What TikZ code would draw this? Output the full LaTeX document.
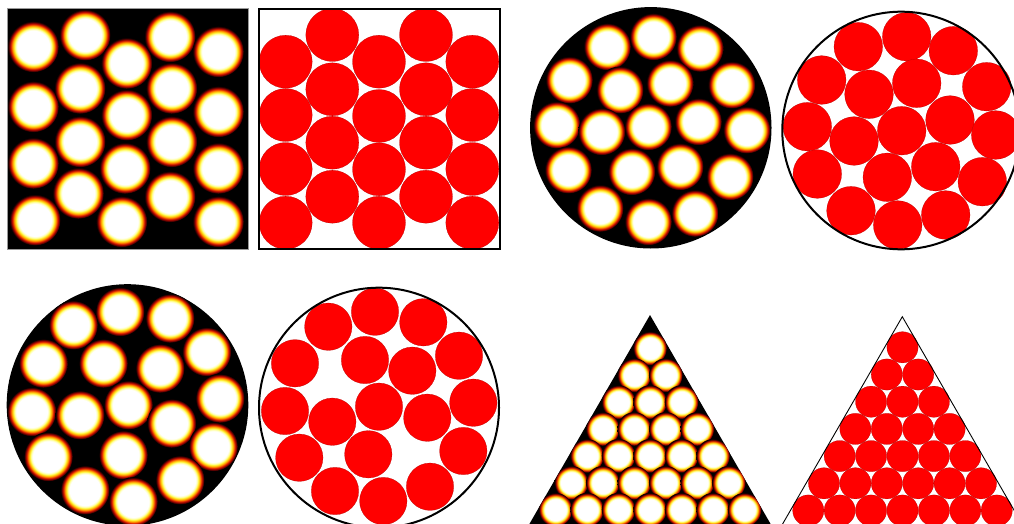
\documentclass[tikz,border=0pt]{standalone}
\usetikzlibrary{calc}
\definecolor{hotP}{HTML}{FFFFA0}
\definecolor{hotY}{HTML}{FFEE20}
\definecolor{hotO}{HTML}{FF8C00}
\definecolor{hotR}{HTML}{D81000}
\definecolor{hotD}{HTML}{5A0000}
\definecolor{ballred}{HTML}{FF0000}
\pgfdeclareradialshading{hotspot}{\pgfpoint{0bp}{0bp}}{%
  color(0bp)=(white); color(16bp)=(white); color(17.6bp)=(hotP);
  color(19bp)=(hotY); color(20.6bp)=(hotO); color(22.2bp)=(hotR);
  color(23.8bp)=(hotD); color(25bp)=(black); color(50bp)=(black)}
\tikzset{
  hot/.style={shading=hotspot},
  ball/.style={fill=ballred, draw=ballred!70!black, line width=0.2pt},
  rim/.style={draw=black, line width=2pt},
}

\begin{document}
\begin{tikzpicture}[x=1pt, y=-1pt, every node/.style={inner sep=0pt}]

\useasboundingbox (0,0) rectangle (1014,524);
\clip (0,0) rectangle (1014,524);

% top left: density field in the square
\fill[black] (7,8) rectangle (248,249);
\begin{scope}
  \clip (7,8) rectangle (248,249);
  \foreach \x/\y in {33.3/46.7, 33.3/106.7, 33.3/163.3, 35/220,
                     85/35, 80/88.3, 80/141.7, 78.3/193.3,
                     126.7/63.3, 126.7/115, 125/168.3, 121.7/221.7,
                     170/36.7, 171.7/88.3, 171.7/141.7, 170/196.7,
                     218.3/51.7, 218.3/111.7, 218.3/168.3, 218.3/221.7}
    \shade[hot] (\x,\y) circle (25.5pt);
\end{scope}
\draw[black!40, line width=0.5pt] (7,8) rectangle (248,249);

% top left: packed discs in the square
\foreach \x/\y in {285.7/61.7, 285.7/115, 285.7/169, 285.7/222.7,
                   332.3/35, 332.3/89.3, 332.3/142.7, 332.3/196.7,
                   379/61.7, 379/116, 379/169.3, 379/222.7,
                   426/35, 426/89.3, 426/142.7, 426/196.7,
                   472.3/61.7, 472.3/115, 472.3/169, 472.3/222.7}
  \filldraw[ball] (\x,\y) circle (26.5pt);
\draw[black, line width=1.5pt] (259,9) rectangle (500,249);

% top right: density field in the disk
\fill[black] (650.8,127.8) circle (120.7pt);
\begin{scope}
  \clip (650.8,127.8) circle (120.7pt);
  \foreach \x/\y in {653.3/36.7, 607.3/46.7, 700/48.3,
                     569.3/80, 620/90, 670/83.3, 731.7/85,
                     556.7/125, 601.7/131.7, 648.3/126.7, 698.3/121.7, 746.7/130,
                     568.3/170, 631.7/171.7, 680/166.7, 730/176.7,
                     600/208.3, 648.3/221.7, 695/213.3}
    \shade[hot] (\x,\y) circle (23.5pt);
\end{scope}

% top right: packed discs in the disk
\foreach \x/\y in {858.3/46.7, 906.7/36.7, 953.3/50.7,
                   821.7/80, 869/94.3, 916.7/83.3, 986.7/86.7,
                   807.3/126.7, 854/141, 901.7/130.7, 950/120, 995.7/135,
                   817.3/174, 887.3/177.3, 935.7/166.7, 982.3/181.7,
                   851/210.7, 897.7/225, 945.7/215}
  \filldraw[ball] (\x,\y) circle (24.3pt);
\draw[rim] (901.1,130.5) circle (118.8pt);

% bottom left: density field in the disk
\fill[black] (127.5,405) circle (120.8pt);
\begin{scope}
  \clip (127.5,405) circle (120.8pt);
  \foreach \x/\y in {120/311.7, 73.3/325, 170/318.3, 206.7/351.7,
                     43.3/363.3, 103.3/363.3, 160/368.3, 220/398.3,
                     31.7/411.7, 80/415, 128.3/405, 171.7/423.3,
                     213.3/446.7, 48.3/456.7, 123.3/455, 180/480,
                     85/490, 133.3/501.7}
    \shade[hot] (\x,\y) circle (24.5pt);
\end{scope}

% bottom left: packed discs in the disk
\foreach \x/\y in {328.3/326.7, 375/311.7, 423.3/322.3,
                   295/363.3, 365/360, 412.3/370.7, 459/355.7,
                   285/411, 332.3/421.7, 379/406.7, 427.3/417.7, 473.3/402.7,
                   299.3/457.7, 368.3/454.3, 463.3/451,
                   335/491, 383.3/501, 430/486.7}
  \filldraw[ball] (\x,\y) circle (23.7pt);
\draw[rim] (379,407.7) circle (120pt);

% bottom right: density field in the triangle
\fill[black] (650,315) -- (528.8,525) -- (771.2,525) -- cycle;
\begin{scope}
  \clip (650,315) -- (528.8,525) -- (771.2,525) -- cycle;
  \foreach \k in {0,...,6}
    \foreach \j in {0,...,\k}
      \shade[hot] ({650+(\j-\k/2)*31.5},{348.3+\k*26.9}) circle (16.8pt);
\end{scope}

% bottom right: packed discs in the triangle
\foreach \k in {0,...,6}
  \foreach \j in {0,...,\k}
    \filldraw[ball] ({902.5+(\j-\k/2)*31.4},{347.3+\k*27.2}) circle (15.6pt);
\draw[black, line width=0.9pt] (781.2,526.4) -- (902.3,316.7) -- (1023.4,526.4);

\end{tikzpicture}
\end{document}
